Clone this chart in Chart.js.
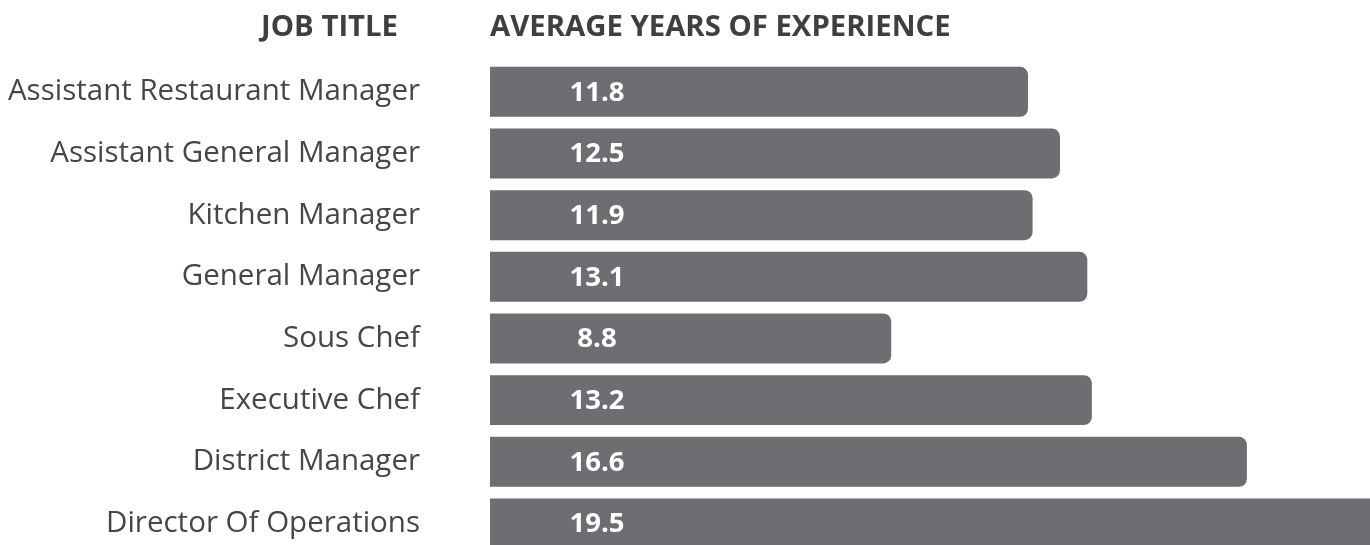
<!DOCTYPE html>
<html>
<head>
<meta charset="utf-8">
<script src="https://cdn.jsdelivr.net/npm/chart.js@4.4.1/dist/chart.umd.min.js"></script>
<style>
  html, body { margin: 0; padding: 0; background: #fff; overflow: hidden; height: 545px; }
  #wrap { position: relative; width: 1370px; height: 572px; }
</style>
</head>
<body>
<div id="wrap"><canvas id="expChart"></canvas></div>
<script>
// job titles and average years of experience
const jobTitles = [
  "Assistant Restaurant Manager",
  "Assistant General Manager",
  "Kitchen Manager",
  "General Manager",
  "Sous Chef",
  "Executive Chef",
  "District Manager",
  "Director Of Operations"
];
const avgYears = [11.8, 12.5, 11.9, 13.1, 8.8, 13.2, 16.6, 19.5];
const headers = ["JOB TITLE", "AVERAGE YEARS OF EXPERIENCE"];

const FONT = "'Open Sans', sans-serif";

// column headers above the chart
const headerPlugin = {
  id: "headers",
  afterDraw(chart) {
    const { ctx, chartArea } = chart;
    ctx.save();
    ctx.font = "bold 29.3px " + FONT;
    ctx.fillStyle = "#3f3f41";
    ctx.textBaseline = "middle";
    ctx.textAlign = "right";
    ctx.fillText(headers[0], 398, 28);
    ctx.textAlign = "left";
    ctx.fillText(headers[1], chartArea.left, 28);
    ctx.restore();
  }
};

// value labels inside the bars
const valuePlugin = {
  id: "values",
  afterDatasetsDraw(chart) {
    const { ctx } = chart;
    const meta = chart.getDatasetMeta(0);
    const x0 = chart.scales.x.getPixelForValue(0);
    ctx.save();
    ctx.font = "bold 27.5px " + FONT;
    ctx.fillStyle = "#ffffff";
    ctx.textAlign = "center";
    ctx.textBaseline = "middle";
    meta.data.forEach((bar, i) => {
      ctx.fillText(avgYears[i].toFixed(1), x0 + 107, bar.y + 1);
    });
    ctx.restore();
  }
};

new Chart(document.getElementById("expChart"), {
  type: "bar",
  data: {
    labels: jobTitles,
    datasets: [{
      data: avgYears,
      backgroundColor: "#6d6e72",
      borderWidth: 0,
      borderRadius: 8,
      barPercentage: 0.81,
      categoryPercentage: 1
    }]
  },
  options: {
    indexAxis: "y",
    responsive: true,
    maintainAspectRatio: false,
    animation: false,
    layout: { padding: { top: 61, right: 0, bottom: 0, left: 0 } },
    scales: {
      x: { display: false, min: 0, max: 19.3 },
      y: {
        afterFit: (scale) => { scale.width = 490; },
        // tick length (not drawn) makes the gap between labels and bars
        grid: { display: false, drawTicks: true, tickLength: 70 },
        border: { display: false },
        ticks: {
          padding: 0,
          color: "#464648",
          font: { family: FONT, size: 29.5 }
        }
      }
    },
    plugins: {
      legend: { display: false },
      tooltip: { enabled: false }
    }
  },
  plugins: [headerPlugin, valuePlugin]
});
</script>
</body>
</html>
